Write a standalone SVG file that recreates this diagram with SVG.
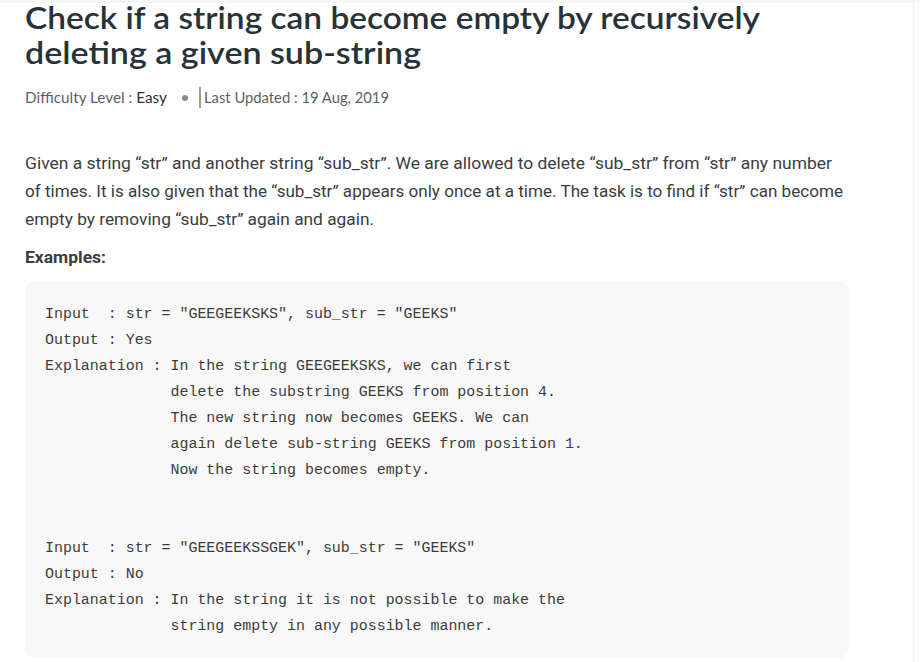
<svg xmlns="http://www.w3.org/2000/svg" width="920" height="662" viewBox="0 0 920 662">
<style>
.title{font-family:"Lato","Open Sans",sans-serif;font-weight:600;font-size:31px;fill:#273239}
.meta{font-family:"Lato","Open Sans",sans-serif;font-size:14.5px;fill:#5b5f63}
.para{font-family:"Roboto","Liberation Sans",sans-serif;font-size:17px;fill:#3a3d40}
.bold{font-family:"Roboto","Liberation Sans",sans-serif;font-weight:700;font-size:17px;fill:#3a3d40}
.code{font-family:"Liberation Mono","DejaVu Sans Mono",monospace;font-size:14.95px;fill:#3c3c3c;white-space:pre}
</style>
<rect x="0" y="0" width="920" height="662" fill="#ffffff"/>
<rect x="0" y="0" width="920" height="3" fill="#f7f7f7"/>
<line x1="913.5" y1="0" x2="913.5" y2="662" stroke="#f1f1f1" stroke-width="1"/>
<g id="title">
<text class="title" x="25" y="29" textLength="735" lengthAdjust="spacingAndGlyphs">Check if a string can become empty by recursively</text>
<text class="title" x="25" y="64" textLength="396" lengthAdjust="spacingAndGlyphs">deleting a given sub-string</text>
</g>
<g id="meta">
<text class="meta" x="25" y="103" textLength="142" lengthAdjust="spacingAndGlyphs">Difficulty Level : <tspan fill="#273239">Easy</tspan></text>
<circle cx="185" cy="98" r="3" fill="#888c90"/>
<line x1="200" y1="87" x2="200" y2="108" stroke="#3a3d40" stroke-width="1"/>
<text class="meta" x="204" y="103" textLength="185" lengthAdjust="spacingAndGlyphs">Last Updated : 19 Aug, 2019</text>
</g>
<g id="description">
<text class="para" x="25" y="169" textLength="807" lengthAdjust="spacingAndGlyphs">Given a string “str” and another string “sub_str”. We are allowed to delete “sub_str” from “str” any number</text>
<text class="para" x="25" y="197" textLength="818" lengthAdjust="spacingAndGlyphs">of times. It is also given that the “sub_str” appears only once at a time. The task is to find if “str” can become</text>
<text class="para" x="25" y="225" textLength="349" lengthAdjust="spacingAndGlyphs">empty by removing “sub_str” again and again.</text>
<text class="bold" x="25" y="263" textLength="81" lengthAdjust="spacingAndGlyphs">Examples:</text>
</g>
<g id="code-block">
<rect x="25" y="281" width="824" height="377" rx="10" ry="10" fill="#f8f8f8"/>
<text class="code" x="45" y="318">Input  : str = "GEEGEEKSKS", sub_str = "GEEKS"</text>
<text class="code" x="45" y="344">Output : Yes</text>
<text class="code" x="45" y="370">Explanation : In the string GEEGEEKSKS, we can first</text>
<text class="code" x="45" y="396">              delete the substring GEEKS from position 4.</text>
<text class="code" x="45" y="422">              The new string now becomes GEEKS. We can</text>
<text class="code" x="45" y="448">              again delete sub-string GEEKS from position 1.</text>
<text class="code" x="45" y="474">              Now the string becomes empty.</text>
<text class="code" x="45" y="552">Input  : str = "GEEGEEKSSGEK", sub_str = "GEEKS"</text>
<text class="code" x="45" y="578">Output : No</text>
<text class="code" x="45" y="604">Explanation : In the string it is not possible to make the</text>
<text class="code" x="45" y="630">              string empty in any possible manner.</text>
</g>
</svg>
